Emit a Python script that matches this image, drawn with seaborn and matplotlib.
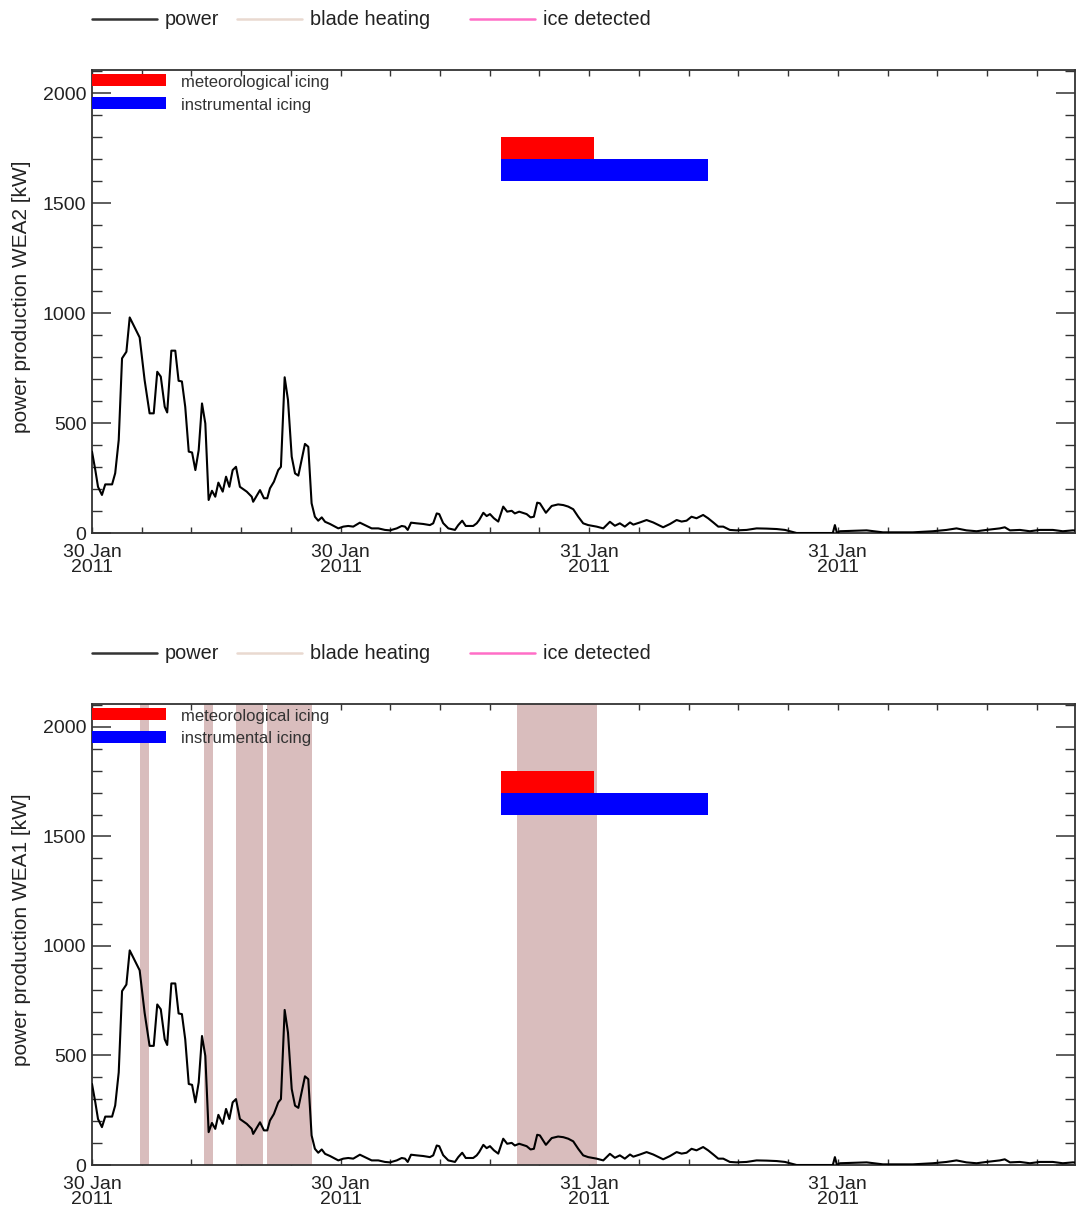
import numpy as np
import pandas as pd
import matplotlib
matplotlib.use("Agg")
import matplotlib.pyplot as plt
import seaborn as sns
from matplotlib.lines import Line2D
from matplotlib.patches import Rectangle
from matplotlib.ticker import MultipleLocator, FixedLocator

# ---------------- data ----------------
hours = [0.00, 0.16, 0.29, 0.48, 0.64, 0.97, 1.12, 1.29, 1.45, 1.66, 1.82, 2.30, 2.54, 2.78, 2.98,
         3.15, 3.32, 3.51, 3.63, 3.83, 4.02, 4.18, 4.34, 4.50, 4.67, 4.83, 4.99, 5.15, 5.31, 5.47,
         5.63, 5.79, 5.95, 6.10, 6.31, 6.47, 6.63, 6.79, 6.95, 7.14, 7.47, 7.71, 7.78, 8.11, 8.30,
         8.46, 8.59, 8.78, 8.99, 9.12, 9.30, 9.46, 9.64, 9.80, 9.96, 10.12, 10.28, 10.44, 10.60, 10.76,
         10.92, 11.09, 11.25, 11.49, 11.73, 11.89, 12.13, 12.37, 12.61, 12.93, 13.26, 13.50, 13.82, 14.14,
         14.38, 14.71, 14.95, 15.11, 15.24, 15.40, 15.67, 15.99, 16.31, 16.47, 16.64, 16.76, 16.95, 17.20,
         17.52, 17.68, 17.87, 18.04, 18.40, 18.57, 18.69, 18.89, 19.05, 19.21, 19.40, 19.61, 19.85, 20.04,
         20.26, 20.41, 20.62, 20.79, 20.98, 21.17, 21.33, 21.49, 21.62, 21.91, 22.19, 22.50, 22.75, 22.99,
         23.23, 23.47, 23.71, 23.95, 24.36, 24.68, 25.00, 25.24, 25.48, 25.72, 25.97, 26.13, 26.45, 26.77,
         27.09, 27.57, 27.90, 28.22, 28.46, 28.70, 28.94, 29.18, 29.50, 29.74, 29.99, 30.23, 30.47, 30.79,
         31.11, 31.60, 32.08, 32.56, 33.05, 33.45, 33.69, 34.01, 34.17, 35.62, 35.76, 35.86, 35.96, 36.10,
         37.39, 38.18, 39.62, 40.59, 41.25, 41.73, 42.21, 42.70, 43.18, 43.82, 44.06, 44.31, 44.79, 45.27,
         45.75, 46.38, 46.86, 47.35, 47.60]
power = [370, 286, 210, 173, 221, 221, 272, 423, 794, 824, 980, 889, 695, 544, 544,
         733, 711, 574, 548, 829, 829, 692, 689, 574, 370, 366, 286, 377, 589, 498,
         150, 192, 165, 229, 188, 256, 210, 286, 301, 210, 188, 165, 142, 195, 158,
         158, 203, 233, 286, 301, 708, 605, 347, 271, 261, 332, 405, 392, 135, 74,
         56, 71, 51, 41, 29, 21, 29, 32, 29, 47, 32, 21, 21, 14,
         12, 21, 32, 29, 14, 47, 44, 41, 36, 44, 89, 86, 45, 21,
         14, 36, 56, 32, 32, 44, 59, 92, 77, 86, 67, 52, 120, 97,
         101, 89, 97, 92, 86, 71, 74, 138, 135, 92, 123, 130, 127, 120,
         108, 74, 44, 36, 29, 21, 51, 33, 44, 29, 48, 38, 48, 59,
         48, 26, 41, 59, 52, 56, 74, 67, 82, 67, 48, 29, 29, 14,
         12, 14, 21, 20, 18, 14, 8, 0, 0, 0, 0, 36, 0, 8,
         12, 3, 3, 8, 14, 21, 12, 8, 14, 21, 26, 12, 14, 8,
         14, 14, 8, 12, 10]

tick_hours = [0, 12, 24, 36]
tick_labels = ["30 Jan\n2011", "30 Jan\n2011", "31 Jan\n2011", "31 Jan\n2011"]

icing_labels = ["meteorological icing", "instrumental icing"]
icing_start = [19.75, 19.75]
icing_end = [24.25, 29.75]
icing_level = [1750, 1650]
icing_colors = ["#ff0000", "#0000ff"]

heating_start = [2.32, 5.39, 6.95, 8.46, 20.50]
heating_end = [2.75, 5.85, 8.27, 10.62, 24.39]

legend_labels = ["power", "blade heating", "ice detected"]
legend_colors = ["#333333", "#e9d9d0", "#ff6ec7"]
panel_ylabels = ["power production WEA2 [kW]", "power production WEA1 [kW]"]

# ---------------- style ----------------
sns.set_style("ticks")
plt.rcParams['font.family'] = ['Liberation Sans', 'DejaVu Sans']
TXT = "#222222"

W, H = 1076, 1211
fig = plt.figure(figsize=(W / 100, H / 100), dpi=100)
fig.patch.set_facecolor("white")

df = pd.DataFrame({"hour": hours, "power": power})

panels = [
    dict(rect=[92 / W, 1 - 533 / H, 983 / W, 463 / H], legend_y=19, heating=False),
    dict(rect=[92 / W, 1 - 1165 / H, 983 / W, 461 / H], legend_y=653, heating=True),
]

for i, p in enumerate(panels):
    ax = fig.add_axes(p["rect"])
    ax.set_facecolor("white")
    ax.set_xlim(0, 47.45)
    ax.set_ylim(0, 2105)

    if p["heating"]:
        for s, e in zip(heating_start, heating_end):
            ax.axvspan(s, e, color="#d9bdbd", lw=0, zorder=1)

    sns.lineplot(data=df, x="hour", y="power", ax=ax, color="black", linewidth=1.5,
                 zorder=3, legend=False)

    ax.barh(icing_level, [e - s for s, e in zip(icing_start, icing_end)], left=icing_start,
            height=100, color=icing_colors, edgecolor="none", linewidth=0, zorder=4)

    # in-panel legend for icing
    for j, (lab, col) in enumerate(zip(icing_labels, icing_colors)):
        y0 = [0.9654, 0.9158][j]
        ax.add_patch(Rectangle((0, y0), 0.0753, 0.025, transform=ax.transAxes,
                               facecolor=col, edgecolor="none", lw=0, zorder=5, clip_on=False))
        ax.text(0.0905, y0 + 0.0085, lab, transform=ax.transAxes, fontsize=12,
                color="#333333", va="center", ha="left", zorder=5)

    # ticks
    ax.xaxis.set_major_locator(FixedLocator(tick_hours))
    ax.set_xticklabels(tick_labels)
    ax.xaxis.set_minor_locator(MultipleLocator(2.4))
    ax.yaxis.set_major_locator(MultipleLocator(500))
    ax.yaxis.set_minor_locator(MultipleLocator(100))
    ax.tick_params(axis="y", which="major", direction="in", length=14, width=1.1,
                   left=True, right=True, labelsize=14, pad=4, colors="#333333", labelcolor=TXT)
    ax.tick_params(axis="y", which="minor", direction="in", length=7, width=1.0,
                   left=True, right=True, colors="#333333")
    ax.tick_params(axis="x", which="major", direction="in", length=4.5, width=1.0,
                   top=True, bottom=True, labelsize=14, pad=8, colors="#333333", labelcolor=TXT)
    ax.tick_params(axis="x", which="minor", direction="in", length=4, width=1.0,
                   top=True, bottom=True, colors="#333333")
    for lbl in ax.get_xticklabels():
        lbl.set_linespacing(0.85)
    for sp in ax.spines.values():
        sp.set_visible(True)
        sp.set_color("#333333")
        sp.set_linewidth(1.3)

    ax.set_xlabel("")
    ax.set_ylabel(panel_ylabels[i], fontsize=15, color=TXT)
    ax.yaxis.set_label_coords(-0.062, 0.51)

    # legend row above each panel
    ly = 1 - p["legend_y"] / H
    for (x0, x1, tx), lab, col in zip([(92, 157, 165), (237, 302, 310), (470, 535, 543)],
                                      legend_labels, legend_colors):
        fig.add_artist(Line2D([x0 / W, x1 / W], [ly, ly], transform=fig.transFigure,
                              color=col, lw=1.8))
        fig.text(tx / W, ly - 0.0005, lab, fontsize=14.3, color=TXT, va="center", ha="left")

fig.savefig("out.png", dpi=100, facecolor="white")
